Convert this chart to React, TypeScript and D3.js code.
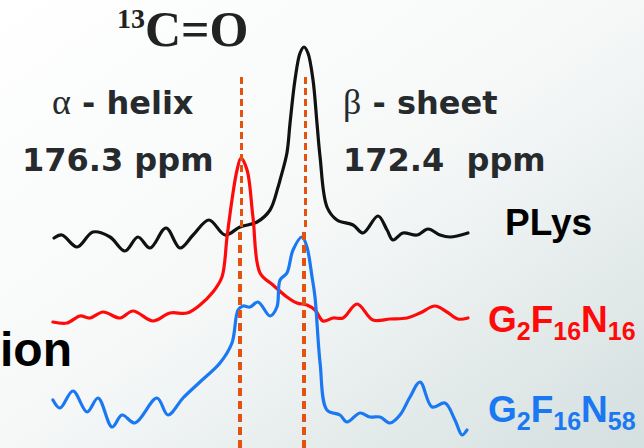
import React, { useEffect, useRef } from "react";
import * as d3 from "d3";

// chemical shift axis (ppm) and intensities (relative to each trace baseline)
const plysPpm = [187.63, 187.15, 186.23, 185.26, 184.22, 183.31, 182.52, 181.78, 180.81, 179.96, 179.16, 178.19, 177.21, 176.3, 175.26, 174.47, 173.98, 173.86, 173.44, 173.25, 172.95, 172.64, 172.4, 172.16, 171.85, 171.61, 171.42, 171.0, 170.39, 169.41, 168.8, 167.89, 167.34, 166.98, 166.37, 165.51, 164.84, 164.11, 163.5, 162.41];
const plysInt = [1, 2.5, -3.5, 4, 1.5, -5.5, 1.5, -4, 6, -4, 2.5, 10, 2.5, 6.5, 9, 15, 26.5, 30, 43.5, 58.5, 80, 93.5, 96.5, 93.5, 80, 58.5, 41.5, 16.5, 10, 7.5, 3.5, 12, 5, 0, 3.5, 2.5, 5.5, 2.5, 1.5, 3.5];

const n16Ppm = [187.7, 186.84, 186.05, 185.44, 184.65, 183.61, 182.82, 181.6, 180.57, 179.53, 178.74, 177.95, 177.4, 177.09, 176.79, 176.48, 176.24, 175.87, 175.51, 175.08, 174.29, 173.44, 172.83, 172.22, 171.73, 171.24, 170.63, 170.02, 169.17, 168.2, 167.16, 166.12, 165.33, 164.42, 163.69, 163.02, 162.41];
const n16Int = [-1, -1.5, 2, 1, 4, 1, 4.5, -0.5, 3.5, 3.5, 7.5, 14, 21.5, 41.5, 60, 75, 81, 75, 51.5, 23.5, 17.5, 11.5, 8.5, 7.5, 5, -0.5, 1, 1, 8, 0, 0.5, 1, 3.5, 7, 4, 0.5, 1];

const n58Ppm = [187.7, 187.27, 186.48, 185.62, 184.95, 184.1, 183.49, 182.7, 181.36, 180.69, 179.77, 178.74, 177.52, 176.79, 176.42, 176.12, 175.69, 175.2, 174.47, 174.05, 173.86, 173.44, 173.07, 172.52, 172.22, 171.91, 171.73, 171.42, 171.0, 170.21, 169.78, 168.99, 168.38, 167.77, 167.16, 166.55, 165.94, 165.33, 164.6, 163.81, 163.2, 162.77, 162.47];
const n58Int = [5, 1, 9.5, -1, 6, -8.5, -2.5, -6.5, 6, -2.5, 6, 14, 23.5, 33.5, 50, 52, 51.5, 54, 47, 51.5, 65, 68.5, 80, 86.5, 81.5, 66.5, 56.5, 23.5, 0, -2.5, -6, -1.5, -3.5, -3.5, -6.5, -2.5, 6.5, 14, 1.5, 3.5, -5, -12.5, -10];

const markerPpm = [176.3, 172.4];
const markerLabels = [
  ["α", " - helix", "176.3 ppm"],
  ["β", " - sheet", "172.4  ppm"],
];

const series = [
  { name: "PLys", ppm: plysPpm, value: plysInt, offset: 100, color: "#111111" },
  { name: "G2F16N16", ppm: n16Ppm, value: n16Int, offset: 60, color: "#ff0a0a" },
  { name: "G2F16N58", ppm: n58Ppm, value: n58Int, offset: 15, color: "#1a78f2" },
];

const W = 644;
const H = 448;

export default function App() {
  const ref = useRef<SVGSVGElement>(null);

  useEffect(() => {
    document.body.style.margin = "0";
    const svg = d3.select(ref.current);
    svg.selectAll("*").remove();

    const defs = svg.append("defs");
    const grad = defs.append("linearGradient")
      .attr("id", "bg")
      .attr("x1", 0).attr("y1", 0)
      .attr("x2", 1).attr("y2", 1);
    grad.append("stop").attr("offset", "0%").attr("stop-color", "#ffffff");
    grad.append("stop").attr("offset", "50%").attr("stop-color", "#f6f8f8");
    grad.append("stop").attr("offset", "100%").attr("stop-color", "#d4dfdf");

    svg.append("rect")
      .attr("width", W).attr("height", H)
      .attr("fill", "url(#bg)");

    // ppm axis runs right to left
    const x = d3.scaleLinear().domain([176.3, 172.4]).range([240, 304]);
    const y = d3.scaleLinear().domain([0, 200]).range([440, 40]);

    const line = d3.line<[number, number]>()
      .x(d => x(d[0]))
      .y(d => y(d[1]))
      .curve(d3.curveCatmullRom.alpha(0.5));

    // traces
    series.forEach(s => {
      const pts: [number, number][] = s.ppm.map((p, i) => [p, s.value[i] + s.offset]);
      svg.append("path")
        .attr("d", line(pts))
        .attr("fill", "none")
        .attr("stroke", s.color)
        .attr("stroke-width", 3.2)
        .attr("stroke-linejoin", "round")
        .attr("stroke-linecap", "round");
    });

    // dashed marker lines
    markerPpm.forEach(p => {
      svg.append("line")
        .attr("x1", x(p) + 1.5).attr("x2", x(p) + 1.5)
        .attr("y1", 77).attr("y2", 230)
        .attr("stroke", "#e4520f")
        .attr("stroke-width", 3)
        .attr("stroke-dasharray", "7 4");
      svg.append("line")
        .attr("x1", x(p)).attr("x2", x(p))
        .attr("y1", 232).attr("y2", H)
        .attr("stroke", "#e4520f")
        .attr("stroke-width", 4)
        .attr("stroke-dasharray", "8 5");
    });

    // title 13C=O
    const title = svg.append("text")
      .attr("x", 117).attr("y", 46)
      .attr("font-family", "Liberation Serif, serif")
      .attr("font-weight", "bold")
      .attr("fill", "#222");
    title.append("tspan").attr("font-size", 28).attr("dy", -18).text("13");
    title.append("tspan").attr("font-size", 50).attr("dy", 18).text("C=O");

    // marker labels
    const labelX = [52, 343];
    const numX = [22, 343];
    markerLabels.forEach((lab, i) => {
      const t = svg.append("text")
        .attr("x", labelX[i]).attr("y", 114)
        .attr("fill", "#262a2c")
        .attr("font-family", "DejaVu Sans, sans-serif")
        .attr("font-weight", "bold")
        .attr("font-size", 32);
      t.append("tspan")
        .attr("font-family", "Liberation Serif, serif")
        .attr("font-weight", "normal")
        .attr("font-size", 36)
        .text(lab[0]);
      t.append("tspan").style("white-space", "pre").text(lab[1]);
      svg.append("text")
        .attr("x", numX[i]).attr("y", 171)
        .attr("fill", "#262a2c")
        .attr("font-family", "DejaVu Sans, sans-serif")
        .attr("font-weight", "bold")
        .attr("font-size", 32)
        .style("white-space", "pre")
        .text(lab[2]);
    });

    // series labels
    svg.append("text")
      .attr("x", 505).attr("y", 235)
      .attr("font-family", "Liberation Sans, Arial, sans-serif")
      .attr("font-weight", "bold")
      .attr("font-size", 37)
      .attr("fill", "#000")
      .text("PLys");

    const subLabel = (yy: number, color: string, last: string) => {
      const t = svg.append("text")
        .attr("x", 488).attr("y", yy)
        .attr("font-family", "Liberation Sans, Arial, sans-serif")
        .attr("font-weight", "bold")
        .attr("font-size", 37)
        .attr("fill", color);
      t.append("tspan").text("G");
      t.append("tspan").attr("font-size", 25).attr("dy", 8).text("2");
      t.append("tspan").attr("dy", -8).text("F");
      t.append("tspan").attr("font-size", 25).attr("dy", 8).text("16");
      t.append("tspan").attr("dy", -8).text("N");
      t.append("tspan").attr("font-size", 25).attr("dy", 8).text(last);
    };
    subLabel(332, series[1].color, "16");
    subLabel(422, series[2].color, "58");

    // cut-off word at left edge
    svg.append("text")
      .attr("x", 72).attr("y", 366)
      .attr("text-anchor", "end")
      .attr("font-family", "Liberation Sans, Arial, sans-serif")
      .attr("font-weight", "bold")
      .attr("font-size", 48)
      .attr("fill", "#000")
      .text("ion");
  }, []);

  return <svg ref={ref} width={W} height={H} style={{ display: "block" }} />;
}
